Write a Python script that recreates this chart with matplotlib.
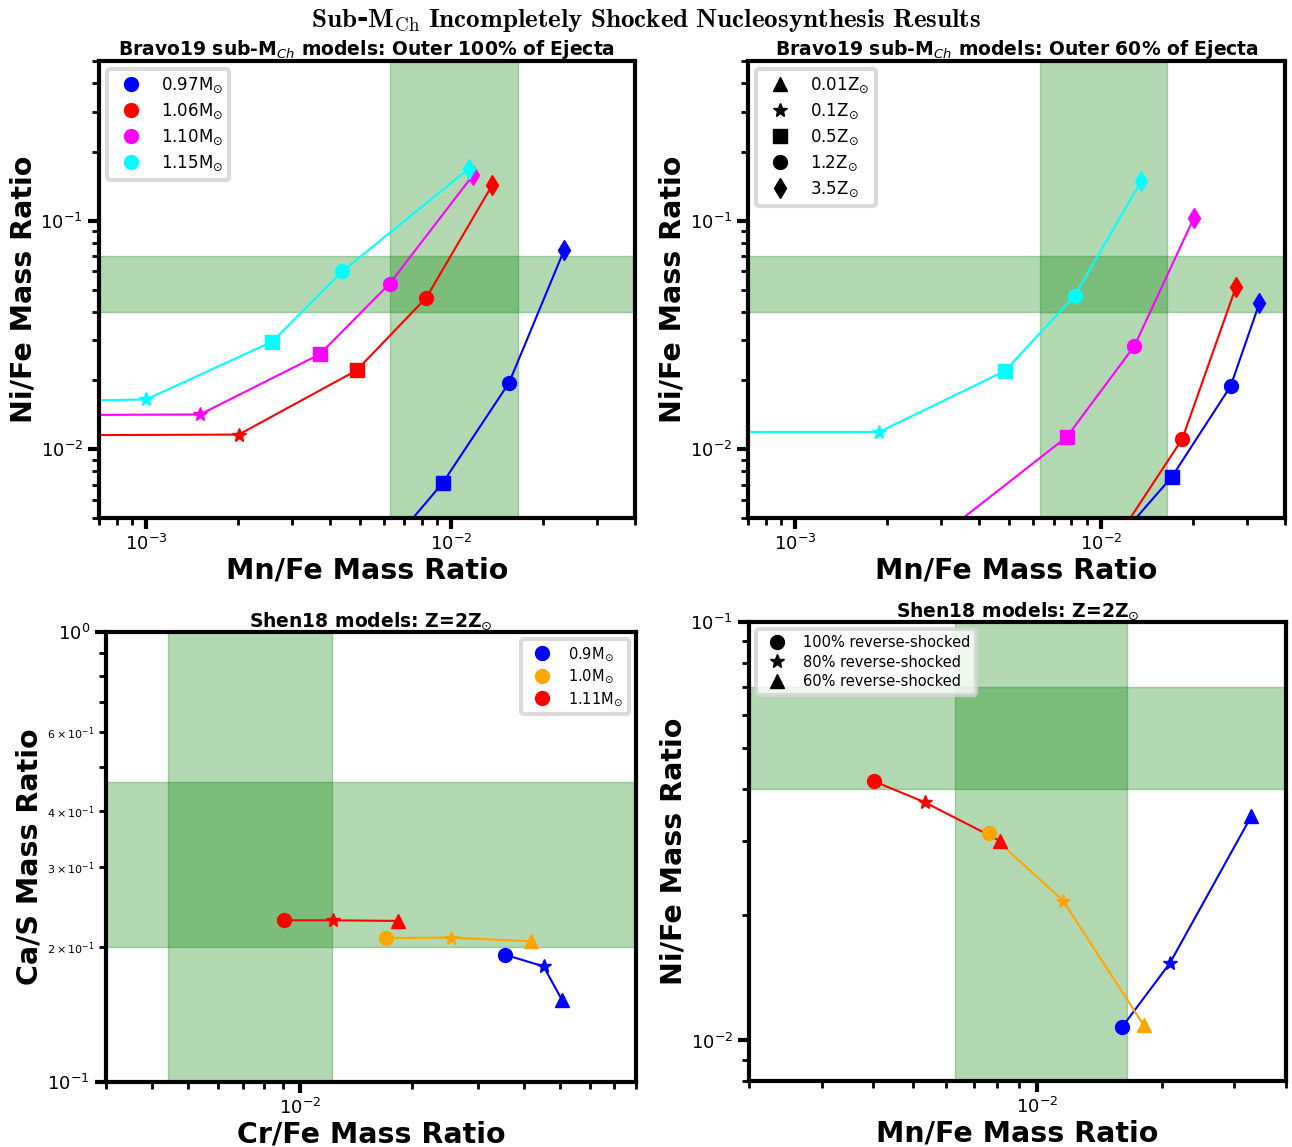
import numpy as np
import matplotlib.pyplot as plt
from matplotlib.lines import Line2D

# metallicity sequence of the Bravo19 models: 0.01, 0.1, 0.5, 1.2, 3.5 Zsun
z_labels = [r'0.01Z$_{\odot}$', r'0.1Z$_{\odot}$', r'0.5Z$_{\odot}$', r'1.2Z$_{\odot}$', r'3.5Z$_{\odot}$']
z_markers = ['^', '*', 's', 'o', 'd']

bravo_masses = [r'0.97M$_{\odot}$', r'1.06M$_{\odot}$', r'1.10M$_{\odot}$', r'1.15M$_{\odot}$']
bravo_colors = ['blue', 'red', 'magenta', 'cyan']

# outer 100% of ejecta (Mn/Fe, Ni/Fe), one row per mass, one column per metallicity
mnfe_100 = [
    [0.0058, 0.0070, 0.00936, 0.01545, 0.0234],
    [0.00045, 0.00201, 0.00489, 0.00828, 0.01361],
    [0.00045, 0.00150, 0.00370, 0.00628, 0.01178],
    [0.00045, 0.00100, 0.00259, 0.00439, 0.01138],
]
nife_100 = [
    [0.0038, 0.0045, 0.00711, 0.01954, 0.0743],
    [0.0115, 0.01159, 0.02213, 0.0461, 0.1433],
    [0.0141, 0.01419, 0.0260, 0.0531, 0.1585],
    [0.0162, 0.01651, 0.02958, 0.0600, 0.1686],
]

# outer 60% of ejecta
mnfe_60 = [
    [0.0095, 0.0118, 0.01706, 0.02655, 0.03297],
    [0.0090, 0.0105, 0.01197, 0.01845, 0.02767],
    [0.0022, 0.0032, 0.00773, 0.01286, 0.0201],
    [0.00045, 0.00188, 0.00485, 0.0082, 0.01352],
]
nife_60 = [
    [0.0038, 0.0043, 0.00757, 0.01888, 0.0435],
    [0.0040, 0.0043, 0.0046, 0.0111, 0.0515],
    [0.0040, 0.0045, 0.01132, 0.0283, 0.1024],
    [0.0119, 0.0119, 0.0220, 0.0469, 0.1487],
]

# Shen18 models, Z = 2 Zsun: 100%, 80%, 60% reverse-shocked
shock_labels = ['100% reverse-shocked', '80% reverse-shocked', '60% reverse-shocked']
shock_markers = ['o', '*', '^']
shen_masses = [r'0.9M$_{\odot}$', r'1.0M$_{\odot}$', r'1.11M$_{\odot}$']
shen_colors = ['blue', 'orange', 'red']
crfe_shen = [
    [0.0355, 0.0451, 0.0506],
    [0.01698, 0.02535, 0.0418],
    [0.00903, 0.01222, 0.01828],
]
cas_shen = [
    [0.1918, 0.1807, 0.152],
    [0.2089, 0.2093, 0.2054],
    [0.2287, 0.2287, 0.228],
]
mnfe_shen = [
    [0.01604, 0.02094, 0.0330],
    [0.00763, 0.01153, 0.01811],
    [0.004027, 0.00533, 0.00812],
]
nife_shen = [
    [0.01077, 0.01531, 0.0344],
    [0.0313, 0.0216, 0.01086],
    [0.0416, 0.0371, 0.0300],
]

# observed ranges
mnfe_obs = (0.0063, 0.0165)
nife_obs = (0.04, 0.07)
crfe_obs = (0.0044, 0.0122)
cas_obs = (0.2, 0.465)

MS = 10
LABEL_FS = 20.5


def style_axes(ax):
    ax.set_xscale('log')
    ax.set_yscale('log')
    for s in ax.spines.values():
        s.set_linewidth(3)
    ax.tick_params(which='major', direction='out', length=8, width=3, labelsize=13)
    ax.tick_params(which='minor', direction='out', length=5, width=2, labelsize=8)


def add_bands(ax, xr, yr):
    ax.axvspan(xr[0], xr[1], color='green', alpha=0.3, zorder=0)
    ax.axhspan(yr[0], yr[1], color='green', alpha=0.3, zorder=0)


def set_labels(ax, xlab, ylab):
    ax.set_xlabel(xlab, fontsize=LABEL_FS, fontweight='bold', labelpad=2)
    ax.set_ylabel(ylab, fontsize=LABEL_FS, fontweight='bold', labelpad=2)


def legend_frame(leg):
    leg.get_frame().set_linewidth(3)
    leg.get_frame().set_edgecolor('lightgray')


def bravo_panel(ax, xs, ys, title):
    style_axes(ax)
    add_bands(ax, mnfe_obs, nife_obs)
    for xrow, yrow, c in zip(xs, ys, bravo_colors):
        ax.plot(xrow, yrow, '-', color=c, lw=1.5, zorder=2)
        for x, y, m in zip(xrow, yrow, z_markers):
            ax.plot(x, y, marker=m, color=c, ms=MS, ls='none', zorder=3)
    ax.set_xlim(7e-4, 4e-2)
    ax.set_ylim(5e-3, 0.5)
    set_labels(ax, 'Mn/Fe Mass Ratio', 'Ni/Fe Mass Ratio')
    ax.set_title(title, fontsize=13.5, fontweight='bold', pad=4)


fig = plt.figure(figsize=(12.92, 11.47), dpi=100)
ax1 = fig.add_axes([0.0766, 0.5484, 0.415, 0.3984])
ax2 = fig.add_axes([0.579, 0.5484, 0.4156, 0.3984])
ax3 = fig.add_axes([0.082, 0.0567, 0.4103, 0.3923])
ax4 = fig.add_axes([0.5797, 0.0575, 0.4156, 0.4002])

bravo_panel(ax1, mnfe_100, nife_100, r'Bravo19 sub-M$_{Ch}$ models: Outer 100% of Ejecta')
bravo_panel(ax2, mnfe_60, nife_60, r'Bravo19 sub-M$_{Ch}$ models: Outer 60% of Ejecta')

h1 = [Line2D([], [], marker='o', color=c, ls='none', ms=MS) for c in bravo_colors]
leg = ax1.legend(h1, bravo_masses, loc='upper left', fontsize=12, labelspacing=0.4)
legend_frame(leg)
h2 = [Line2D([], [], marker=m, color='black', ls='none', ms=MS) for m in z_markers]
leg = ax2.legend(h2, z_labels, loc='upper left', fontsize=12, labelspacing=0.4)
legend_frame(leg)

# Shen18: Ca/S against Cr/Fe
style_axes(ax3)
add_bands(ax3, crfe_obs, cas_obs)
for xrow, yrow, c in zip(crfe_shen, cas_shen, shen_colors):
    ax3.plot(xrow, yrow, '-', color=c, lw=1.5, zorder=2)
    for x, y, m in zip(xrow, yrow, shock_markers):
        ax3.plot(x, y, marker=m, color=c, ms=MS, ls='none', zorder=3)
ax3.set_xlim(3e-3, 8e-2)
ax3.set_ylim(0.1, 1.0)
set_labels(ax3, 'Cr/Fe Mass Ratio', 'Ca/S Mass Ratio')
ax3.set_title(r'Shen18 models: Z=2Z$_{\odot}$', fontsize=13.5, fontweight='bold', pad=4)
h3 = [Line2D([], [], marker='o', color=c, ls='none', ms=MS) for c in shen_colors]
leg = ax3.legend(h3, shen_masses, loc='upper right', fontsize=10.5, labelspacing=0.3)
legend_frame(leg)

# Shen18: Ni/Fe against Mn/Fe
style_axes(ax4)
add_bands(ax4, mnfe_obs, nife_obs)
for xrow, yrow, c in zip(mnfe_shen, nife_shen, shen_colors):
    ax4.plot(xrow, yrow, '-', color=c, lw=1.5, zorder=2)
    for x, y, m in zip(xrow, yrow, shock_markers):
        ax4.plot(x, y, marker=m, color=c, ms=MS, ls='none', zorder=3)
ax4.set_xlim(2e-3, 4e-2)
ax4.set_ylim(8e-3, 0.1)
set_labels(ax4, 'Mn/Fe Mass Ratio', 'Ni/Fe Mass Ratio')
ax4.set_title(r'Shen18 models: Z=2Z$_{\odot}$', fontsize=13.5, fontweight='bold', pad=4)
h4 = [Line2D([], [], marker=m, color='black', ls='none', ms=MS) for m in shock_markers]
leg = ax4.legend(h4, shock_labels, loc='upper left', fontsize=10.5, labelspacing=0.3)
legend_frame(leg)

fig.suptitle(r'$\mathbf{Sub}$-$\mathbf{M}_{\rm Ch}$$\mathbf{\ Incompletely\ Shocked\ Nucleosynthesis\ Results}$',
             fontsize=19.5, fontfamily='DejaVu Serif', fontweight='bold', math_fontfamily='cm', y=0.994)

fig.savefig('out.png', dpi=100)
